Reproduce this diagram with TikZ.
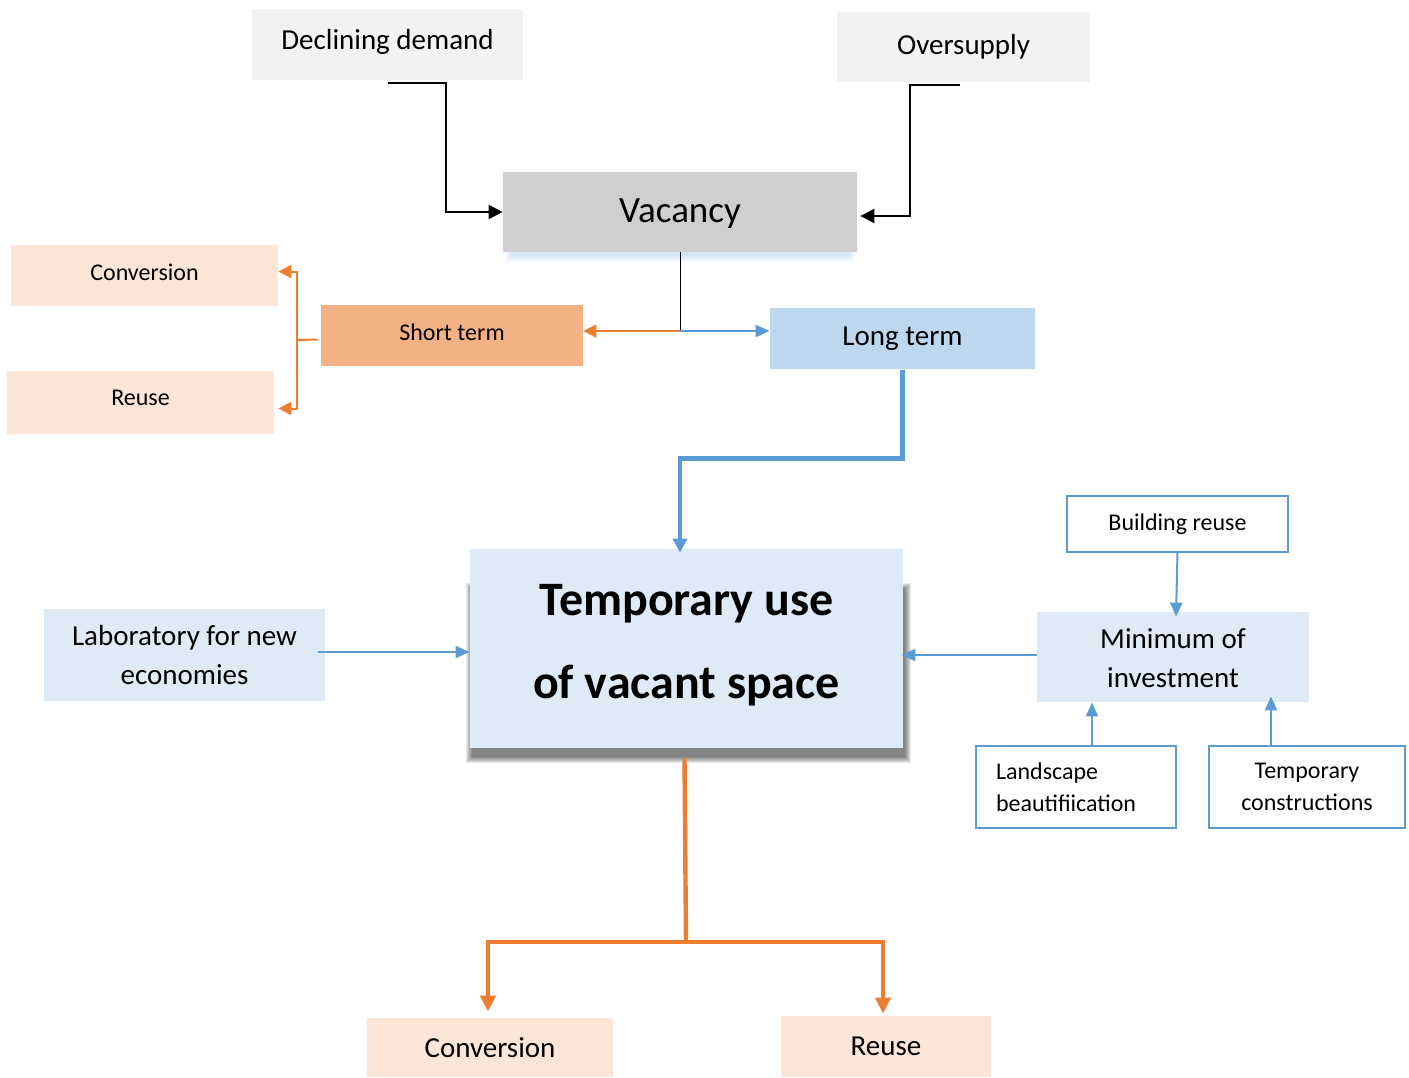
\documentclass[tikz,border=0pt]{standalone}
\usepackage{fontspec}
\setmainfont{Carlito}
\usetikzlibrary{arrows.meta,calc,backgrounds}
\definecolor{cOrange}{HTML}{ED7D31}
\definecolor{cBlue}{HTML}{5B9BD5}
\definecolor{cPeach}{HTML}{FBE5D6}
\definecolor{cShort}{HTML}{F4B183}
\definecolor{cLong}{HTML}{BDD7EE}
\definecolor{cPale}{HTML}{DEEBF7}
\definecolor{cGray}{HTML}{D0CECE}
\definecolor{cLight}{HTML}{F2F2F2}
\newcommand\shiftup[2]{\raisebox{#1}[\height][\depth]{#2}}
\tikzset{
  box/.style={inner sep=2pt, align=center, text=black},
  fsmall/.style={font=\fontsize{12}{16}\selectfont},
  fmed/.style={font=\fontsize{14.5}{19.5}\selectfont},
  blk/.style={draw=black, line width=1pt, -{Triangle[length=7pt,width=7pt]}},
  othin/.style={draw=cOrange, line width=1pt, -{Triangle[length=6.5pt,width=6.5pt]}},
  bthin/.style={draw=cBlue, line width=1pt, -{Triangle[length=7pt,width=6pt]}},
  othick/.style={draw=cOrange, line width=2.2pt, -{Triangle[length=8pt,width=7.5pt]}},
  bthick/.style={draw=cBlue, line width=2.2pt, -{Triangle[length=7pt,width=7pt]}},
  outl/.style={draw=cBlue, line width=0.6pt, fill=white},
}
\begin{document}
\begin{tikzpicture}[x=0.5pt,y=-0.5pt]
\path[use as bounding box] (0,0) rectangle (1409,1077);

% boxes
\node[box,fmed,fill=cLight,minimum width=135.5pt,minimum height=35.5pt] (dd) at (387.5,44.5) {\shiftup{1.5pt}{Declining demand}};
\node[box,fmed,fill=cLight,minimum width=126.5pt,minimum height=35pt] (os) at (963.5,47) {Oversupply};
\node[box,font=\fontsize{18.5}{22}\selectfont,fill=cGray,minimum width=177pt,minimum height=40pt] (vac) at (680,212) {\shiftup{-1pt}{Vacancy}};
\node[box,fsmall,fill=cPeach,minimum width=133.5pt,minimum height=30.5pt] (conv1) at (144.5,275.5) {\shiftup{1.75pt}{Conversion}};
\node[box,fsmall,fill=cPeach,minimum width=133.5pt,minimum height=31.5pt] (reuse1) at (140.5,402.5) {\shiftup{2.2pt}{Reuse}};
\node[box,fsmall,fill=cShort,minimum width=131pt,minimum height=30.5pt] (st) at (452,335.5) {\shiftup{1.75pt}{Short term}};
\node[box,fmed,fill=cLong,minimum width=132.5pt,minimum height=30.5pt] (lt) at (902.5,338.5) {Long term};
\node[box,font=\fontsize{24}{41.5}\selectfont\bfseries,fill=cPale,minimum width=216.5pt,minimum height=99.5pt] (tu) at (686.5,648.5)
  {\shiftup{4pt}{\begin{tabular}{@{}c@{}}Temporary use\\of vacant space\end{tabular}}};
\node[box,fmed,fill=cPale,minimum width=140.5pt,minimum height=46pt] (lab) at (184.5,655) {Laboratory for new\\economies};
\node[box,fsmall,outl,minimum width=110.5pt,minimum height=28pt] (br) at (1177.5,524) {Building reuse};
\node[box,fmed,fill=cPale,minimum width=136pt,minimum height=45pt] (mi) at (1173,657)
  {\shiftup{-1.5pt}{\begin{tabular}{@{}c@{}}Minimum of\\investment\end{tabular}}};
\node[box,fsmall,outl,inner xsep=10pt,text width=80pt,align=left,minimum height=41pt] (ls) at (1076,787) {Landscape\\beautifiication};
\node[box,fsmall,outl,minimum width=98pt,minimum height=41pt] (tc) at (1307,787) {Temporary\\constructions};
\node[box,fmed,fill=cPeach,minimum width=123pt,minimum height=29.5pt] (conv2) at (490,1047.5) {Conversion};
\node[box,fmed,fill=cPeach,minimum width=105pt,minimum height=30.5pt] (reuse2) at (886,1046.5) {Reuse};

% soft shadows
\begin{scope}[on background layer]
  \foreach \k in {0,1,2,3,4,5,6}{
    \fill[black,opacity=0.09] ($(tu.north west)+(-\k+2,-\k+40)$) rectangle ($(tu.south east)+(\k+2,\k+9)$);
    \fill[cBlue,opacity=0.04] ($(vac.north west)+(-\k+8,-\k+20)$) rectangle ($(vac.south east)+(\k-8,\k+4)$);
  }
\end{scope}

% causes -> vacancy
\draw[blk] ([yshift=-1.5pt]dd.south) -- ++(58,0) |- (vac.west);
\draw[blk] ([yshift=-1.5pt,xshift=-2pt]os.south) -- ++(-50,0) |- ([yshift=-2pt,xshift=1.5pt]vac.east);

% vacancy split
\coordinate (split) at (680,331);
\draw[black,line width=0.5pt] (vac.south) -- (split);
\draw[othin] (split) -- (split -| st.east);
\draw[bthin] (split) -- (split -| lt.west);

% short term branches
\coordinate (brk) at (297,340);
\draw[cOrange,line width=1pt] ([yshift=-2pt,xshift=-1.5pt]st.west) -- (brk);
\draw[othin] (brk) |- ([yshift=2pt]conv1.east);
\draw[othin] (brk) |- ([yshift=-3pt,xshift=2pt]reuse1.east);

% long term -> temporary use
\draw[bthick] ([yshift=-0.5pt]lt.south) -- ++(0,88) -| ([xshift=-3.25pt,yshift=-2pt]tu.north);

% side inputs
\draw[bthin] ([xshift=-3.5pt,yshift=1.5pt]lab.east) -- ([yshift=1.5pt]lab.east -| tu.west);
\draw[bthin] ([yshift=1pt]mi.west) -- ([yshift=1pt,xshift=-1pt]mi.west -| tu.east);
\draw[bthin] (br.south) -- ([xshift=1.5pt,yshift=-2.5pt]mi.north);
\draw[bthin] ([xshift=8pt]ls.north) -- ([xshift=8pt]ls.north |- mi.south);
\draw[bthin] ([xshift=-18pt]tc.north) -- ([xshift=-18pt,yshift=3pt]tc.north |- mi.south);

% temporary use -> outcomes
\coordinate (bj) at (686,942);
\draw[cOrange,line width=2.2pt] ([yshift=-5pt,xshift=-1pt]tu.south) -- (bj);
\draw[othick] (bj) -| ([xshift=-1pt,yshift=3pt]conv2.north);
\draw[othick] (bj) -| ([xshift=-1.5pt,yshift=1pt]reuse2.north);
\end{tikzpicture}
\end{document}
